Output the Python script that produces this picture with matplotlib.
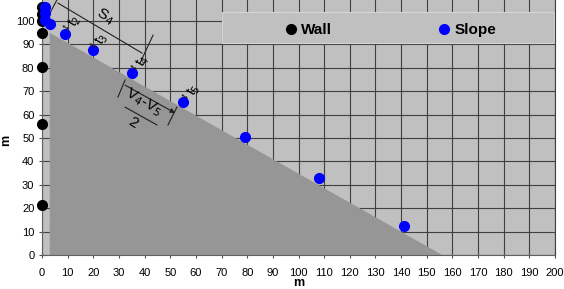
import matplotlib
matplotlib.use("Agg")
import matplotlib.pyplot as plt
from matplotlib.patches import Polygon, Rectangle

plt.rcParams['font.family'] = ['Liberation Sans', 'DejaVu Sans']

# Data
wall_x = [0, 0, 0, 0, 0, 0, 0]
wall_y = [106, 103, 100, 95, 80.5, 56, 21.5]
slope_x = [1, 1, 1, 3, 9, 20, 35, 55, 79, 108, 141]
slope_y = [106, 103.5, 100.5, 98.7, 94.5, 87.5, 78, 65.5, 50.5, 33, 12.5]
ground_x = [3, 156, 3]
ground_y = [95, 0, 0]
x_ticks = list(range(0, 201, 10))
y_ticks = list(range(0, 101, 10))

fig = plt.figure(figsize=(5.64, 2.89), dpi=100)
ax = fig.add_axes([42/564, 34/289, (555-42)/564, 255/289])
ax.set_xlim(0, 200)
ax.set_ylim(0, 109)
ax.set_facecolor('#c0c0c0')
ax.set_axisbelow(True)
ax.grid(True, color='#404040', lw=0.8)
ax.set_xticks(x_ticks)
ax.set_yticks(y_ticks)
ax.tick_params(labelsize=8, length=5, width=0.8, color='#505050', direction='inout')
ax.tick_params(axis='x', pad=6.5)
ax.tick_params(axis='y', pad=3)
for s in ax.spines.values():
    s.set_color('#606060')
    s.set_linewidth(0.8)
ax.spines['top'].set_visible(False)
ax.spines['right'].set_color('#404040')

ax.add_patch(Polygon(list(zip(ground_x, ground_y)), closed=True,
                     facecolor='#969696', edgecolor='none', zorder=1))

# legend box
ax.add_patch(Rectangle((70.2, 90.6), 129.4, 13.2, facecolor='#c0c0c0',
                       edgecolor='#d4d4d4', lw=0.8, zorder=2))

ax.plot(wall_x, wall_y, 'o', color='black', ms=7, zorder=4, label='Wall', clip_on=False)
ax.plot(slope_x, slope_y, 'o', color='#0000ff', ms=7, zorder=5, label='Slope', clip_on=False)

leg = ax.legend(loc='center left', bbox_to_anchor=(0.4756, 0.882),
                ncol=2, frameon=False, handlelength=0.6, handletextpad=0.4,
                columnspacing=7.0, prop={'weight': 'bold', 'size': 11},
                markerscale=1.0, borderpad=0, borderaxespad=0)
leg.set_zorder(6)

ax.set_xlabel('m', fontsize=9, fontweight='bold', labelpad=0)
ax.set_ylabel('m', fontsize=9, fontweight='bold')
ax.yaxis.set_label_coords(-0.058, 0.45)

lc = '#202020'
rot = -31
def seg(p, q, **kw):
    ax.plot([p[0], q[0]], [p[1], q[1]], color=lc, lw=0.8, zorder=3, clip_on=False, **kw)

# s4 dimension
seg((2.7, 102.6), (5.8, 109))
seg((6.2, 107.7), (39, 86.3))
seg((38.2, 82), (43.3, 94))
ax.text(24.6, 101.8, 'S$_4$', fontsize=11, rotation=rot, ha='center', va='center', zorder=6)

# t labels
for (tx, ty), lab in zip([(12.9, 100.0), (23.4, 92.3), (39.4, 82.9), (59.3, 70.5)],
                         ['t$_2$', 't$_3$', 't$_4$', 't$_5$']):
    ax.text(tx, ty, lab, fontsize=10, rotation=59, ha='center', va='center', zorder=6)
    ax.annotate('', xy=(tx - 5.0, ty - 1.9), xytext=(tx - 2.4, ty - 3.6),
                arrowprops=dict(arrowstyle='<->', lw=0.6, color=lc,
                                mutation_scale=3, shrinkA=0, shrinkB=0), zorder=6)

# (V4-V5)/2 dimension
seg((29.6, 67.5), (32.4, 74.8))
ax.annotate('', xy=(51.9, 60.7), xytext=(32.4, 72.6),
            arrowprops=dict(arrowstyle='-|>', lw=0.8, color=lc, mutation_scale=7,
                            shrinkA=0, shrinkB=0), zorder=6)
seg((49.1, 55.6), (52.6, 63.2))
ax.text(39.6, 65.3, 'V$_4$-V$_5$', fontsize=11, rotation=rot, ha='center', va='center', zorder=6)
seg((32.4, 63.2), (44.8, 55.6))
ax.text(35.5, 56.4, '2', fontsize=11, rotation=rot, ha='center', va='center', zorder=6)

fig.savefig('out.png', dpi=100)
